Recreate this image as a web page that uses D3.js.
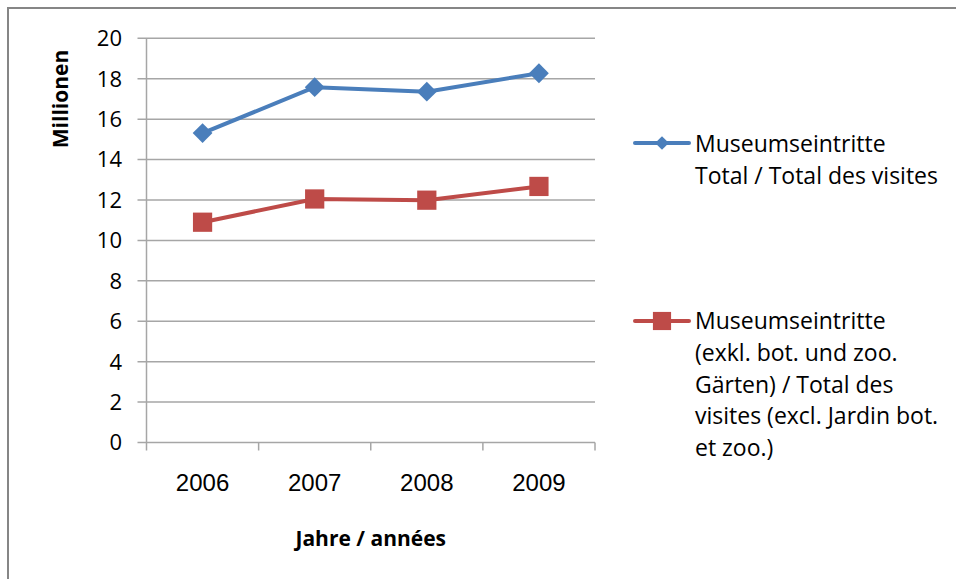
<!DOCTYPE html>
<html>
<head>
<meta charset="utf-8">
<script src="https://cdn.jsdelivr.net/npm/d3@7"></script>
<style>
  body { margin: 0; background: #fff; }
  text { font-family: "Open Sans", sans-serif; fill: #000; }
</style>
</head>
<body>
<script>
var years = ["2006", "2007", "2008", "2009"];
var totalVisits = [15.31, 17.58, 17.36, 18.27];
var visitsExclGardens = [10.9, 12.05, 11.99, 12.67];
var yTicks = [0, 2, 4, 6, 8, 10, 12, 14, 16, 18, 20];
var legendTotal = ["Museumseintritte", "Total / Total des visites"];
var legendExcl = ["Museumseintritte", "(exkl. bot. und zoo.", "Gärten) / Total des", "visites (excl. Jardin bot.", "et zoo.)"];

var width = 956,
  height = 579,
  plotLeft = 146.5,
  plotRight = 595,
  plotTop = 38.3,
  plotBottom = 442.5,
  gridColor = "#a6a6a6",
  blue = "#4a7ebb",
  red = "#be4b48";

var svg = d3.select("body").append("svg")
  .attr("width", width)
  .attr("height", height);

// outer frame (runs off the right and bottom edges)
svg.append("rect")
  .attr("x", 8).attr("y", 8)
  .attr("width", width + 20).attr("height", height + 20)
  .attr("fill", "none")
  .attr("stroke", "#868686")
  .attr("stroke-width", 2);

var x = d3.scaleBand().domain(years).range([plotLeft, plotRight]);
var y = d3.scaleLinear().domain([0, 20]).range([plotBottom, plotTop]);

// gridlines + y labels
svg.selectAll(".grid")
  .data(yTicks)
  .enter().append("line")
  .attr("class", "grid")
  .attr("x1", plotLeft - 9)
  .attr("x2", plotRight)
  .attr("y1", function (d) { return y(d); })
  .attr("y2", function (d) { return y(d); })
  .attr("stroke", gridColor)
  .attr("stroke-width", 1.5);

svg.selectAll(".ylab")
  .data(yTicks)
  .enter().append("text")
  .attr("class", "ylab")
  .attr("x", 122)
  .attr("y", function (d) { return y(d); })
  .attr("dy", "0.36em")
  .attr("text-anchor", "end")
  .style("font-size", "22px")
  .text(function (d) { return d; });

// y axis line
svg.append("line")
  .attr("x1", plotLeft).attr("x2", plotLeft)
  .attr("y1", plotTop).attr("y2", plotBottom + 8)
  .attr("stroke", gridColor).attr("stroke-width", 1.5);

// x axis category ticks
var bounds = years.map(function (d) { return x(d) + x.bandwidth(); });
svg.selectAll(".xtick")
  .data(bounds)
  .enter().append("line")
  .attr("class", "xtick")
  .attr("x1", function (d) { return d; })
  .attr("x2", function (d) { return d; })
  .attr("y1", plotBottom)
  .attr("y2", plotBottom + 8)
  .attr("stroke", gridColor).attr("stroke-width", 1.5);

svg.selectAll(".xlab")
  .data(years)
  .enter().append("text")
  .attr("class", "xlab")
  .attr("x", function (d) { return x(d) + x.bandwidth() / 2; })
  .attr("y", 491)
  .attr("text-anchor", "middle")
  .style("font-family", "'Liberation Sans', Arial, sans-serif")
  .style("font-size", "24px")
  .text(function (d) { return d; });

// axis titles
svg.append("text")
  .attr("x", (plotLeft + plotRight) / 2)
  .attr("y", 546)
  .attr("text-anchor", "middle")
  .style("font-size", "21px")
  .style("font-weight", "bold")
  .text("Jahre / années");

svg.append("text")
  .attr("transform", "translate(68,99) rotate(-90)")
  .attr("text-anchor", "middle")
  .style("font-size", "21px")
  .style("font-weight", "bold")
  .text("Millionen");

// series
var line = d3.line()
  .x(function (d, i) { return x(years[i]) + x.bandwidth() / 2; })
  .y(function (d) { return y(d); });

function drawSeries(values, color, shape) {
  svg.append("path")
    .datum(values)
    .attr("d", line)
    .attr("fill", "none")
    .attr("stroke", color)
    .attr("stroke-width", 4)
    .attr("stroke-linejoin", "round");
  svg.selectAll(".m-" + color.slice(1))
    .data(values)
    .enter().append("path")
    .attr("d", shape)
    .attr("transform", function (d, i) {
      return "translate(" + (x(years[i]) + x.bandwidth() / 2) + "," + y(d) + ")";
    })
    .attr("fill", color);
}

var diamond = d3.symbol().type(d3.symbolDiamond2).size(250)();
var smallDiamond = d3.symbol().type(d3.symbolDiamond2).size(120)();
var square = d3.symbol().type(d3.symbolSquare).size(370)();
var legendSquare = d3.symbol().type(d3.symbolSquare).size(330)();

drawSeries(totalVisits, blue, diamond);
drawSeries(visitsExclGardens, red, square);

// legend
function legendItem(lines, color, shape, ly, baseline) {
  svg.append("line")
    .attr("x1", 635).attr("x2", 689)
    .attr("y1", ly).attr("y2", ly)
    .attr("stroke", color).attr("stroke-width", 4)
    .attr("stroke-linecap", "round");
  svg.append("path")
    .attr("d", shape)
    .attr("transform", "translate(662," + ly + ")")
    .attr("fill", color);
  svg.selectAll(null)
    .data(lines)
    .enter().append("text")
    .attr("x", 695)
    .attr("y", function (d, i) { return baseline + i * 31.8; })
    .style("font-size", "23px")
    .text(function (d) { return d; });
}

legendItem(legendTotal, blue, smallDiamond, 143, 152);
legendItem(legendExcl, red, legendSquare, 321, 329);
</script>
</body>
</html>
